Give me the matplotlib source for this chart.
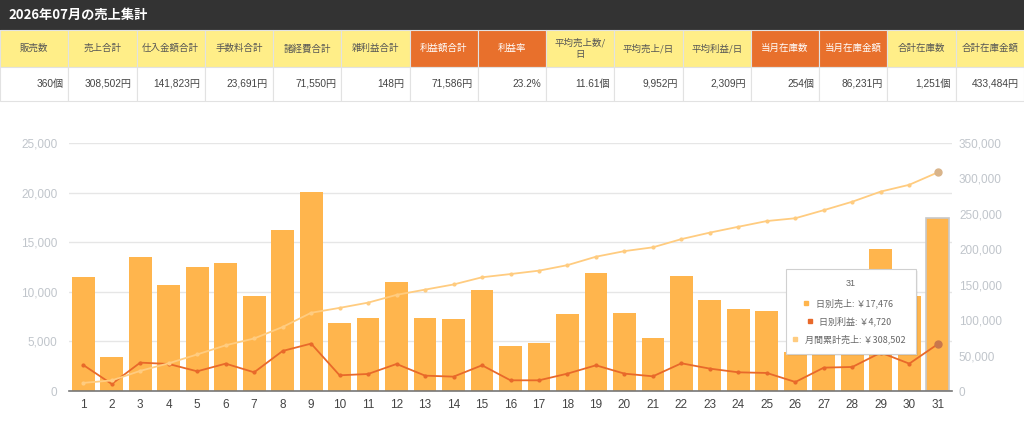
import numpy as np
import matplotlib
matplotlib.use("Agg")
import matplotlib.pyplot as plt
from matplotlib.patches import Rectangle

plt.rcParams['font.family'] = ['Noto Sans CJK JP', 'DejaVu Sans']
NUM_FONT = ['Liberation Sans', 'Noto Sans CJK JP', 'DejaVu Sans']

title = '2026年07月の売上集計'

# summary table
col_names = ['販売数', '売上合計', '仕入金額合計', '手数料合計', '諸経費合計', '雑利益合計',
             '利益額合計', '利益率', '平均売上数/\n日', '平均売上/日', '平均利益/日',
             '当月在庫数', '当月在庫金額', '合計在庫数', '合計在庫金額']
col_values = ['360個', '308,502円', '141,823円', '23,691円', '71,550円', '148円',
              '71,586円', '23.2%', '11.61個', '9,952円', '2,309円',
              '254個', '86,231円', '1,251個', '433,484円']
col_highlight = [False, False, False, False, False, False,
                 True, True, False, False, False, True, True, False, False]

# daily data
days = np.arange(1, 32)
daily_sales = [11450, 3430, 13525, 10666, 12515, 12918, 9623, 16184, 20085, 6898,
               7402, 10968, 7402, 7267, 10160, 4542, 4810, 7772, 11910, 7873,
               5383, 11574, 9185, 8244, 8075, 3950, 11420, 11906, 14300, 9589, 17476]
daily_profit = [2624, 706, 2860, 2725, 1985, 2758, 1884, 4037, 4776, 1581,
                1716, 2725, 1548, 1447, 2591, 1077, 1077, 1750, 2591, 1750,
                1480, 2793, 2254, 1884, 1817, 908, 2355, 2422, 3869, 2758, 4720]
cum_sales = np.cumsum(daily_sales)

C_BAR = '#FFB54D'
C_PROFIT = '#E8692A'
C_CUM = '#FFCC80'
C_YELLOW = '#FFEE88'
C_ORANGE = '#E8702C'

fig = plt.figure(figsize=(10.24, 4.37), dpi=100)

# ---- header (pixel coordinates)
hdr = fig.add_axes([0, 0, 1, 1])
hdr.set_xlim(0, 1024)
hdr.set_ylim(437, 0)
hdr.axis('off')
hdr.add_patch(Rectangle((0, 0), 1024, 30, color='#333333', lw=0))
hdr.text(8, 15, title, color='white', fontsize=9.5, fontweight='bold', va='center', ha='left')

cw = 1024 / len(col_names)
for i, (name, val, hl) in enumerate(zip(col_names, col_values, col_highlight)):
    x0 = i * cw
    hdr.add_patch(Rectangle((x0, 30), cw, 37, facecolor=C_ORANGE if hl else C_YELLOW,
                            edgecolor='#e2e2e2', lw=0.8))
    hdr.add_patch(Rectangle((x0, 67), cw, 34, facecolor='white', edgecolor='#e2e2e2', lw=0.8))
    hdr.text(x0 + cw / 2, 48.5, name, ha='center', va='center', fontsize=6.8,
             color='white' if hl else '#555555', linespacing=1.3)
    hdr.text(x0 + cw - 5, 84, val, ha='right', va='center', fontsize=7.3, color='#444444',
             family=NUM_FONT)

# ---- chart
ax = fig.add_axes([69 / 1024, 46 / 437, 883 / 1024, 248 / 437])
ax2 = ax.twinx()
ax.set_zorder(ax2.get_zorder() - 1)
ax.patch.set_visible(True)
ax2.patch.set_visible(False)

edges = ['none'] * 30 + ['#c8c8c8']
ax.bar(days, daily_sales, width=0.8, color=C_BAR, edgecolor=edges, linewidth=1.2, zorder=2)
ax.plot(days, daily_profit, color=C_PROFIT, lw=1.3, marker='o', ms=2.0, zorder=4)
ax.plot(days[-1], daily_profit[-1], 'o', color='#c9774c', ms=5, zorder=5)

ax2.plot(days, cum_sales, color=C_CUM, lw=1.3, marker='o', ms=2.0, zorder=3)
ax2.plot(days[-1], cum_sales[-1], 'o', color='#d9b48a', ms=5, zorder=5)

ax.set_xlim(0.5, 31.5)
ax.set_ylim(0, 25000)
ax2.set_ylim(0, 350000)
ax.set_yticks(np.arange(0, 25001, 5000))
ax2.set_yticks(np.arange(0, 350001, 50000))
ax.set_xticks(days)
ax.yaxis.set_major_formatter(matplotlib.ticker.StrMethodFormatter('{x:,.0f}'))
ax2.yaxis.set_major_formatter(matplotlib.ticker.StrMethodFormatter('{x:,.0f}'))

ax.grid(axis='y', color='#e6e6e6', lw=1, zorder=0)
ax.set_axisbelow(True)
for a in (ax, ax2):
    for s in ('top', 'left', 'right', 'bottom'):
        a.spines[s].set_visible(False)
ax.spines['bottom'].set_visible(True)
ax.spines['bottom'].set_color('#777777')
ax.spines['bottom'].set_linewidth(1.2)

ax.tick_params(axis='y', length=0, pad=8.5, labelsize=8.5, labelcolor='#c0c5cb')
ax2.tick_params(axis='y', length=0, pad=5, labelsize=8.5, labelcolor='#c0c5cb')
ax.tick_params(axis='x', length=0, pad=6, labelsize=8.5, labelcolor='#444444')
for lab in ax.get_xticklabels() + ax.get_yticklabels() + ax2.get_yticklabels():
    lab.set_family(NUM_FONT)

# ---- tooltip (pixel coordinates)
hdr.set_zorder(10)
hdr.add_patch(Rectangle((788, 271), 130, 85, facecolor='#000000', alpha=0.05, lw=0))
hdr.add_patch(Rectangle((786, 269), 130, 85, facecolor='white', edgecolor='#d0d0d0', lw=0.8))
hdr.text(851, 283, '31', ha='center', va='center', fontsize=6.5, color='#666666',
         family=NUM_FONT)
tip_rows = [('日別売上: ￥17,476', C_BAR, 303),
            ('日別利益: ￥4,720', C_PROFIT, 321),
            ('月間累計売上: ￥308,502', C_CUM, 339)]
for txt, col, yy in tip_rows:
    hdr.text(855, yy, txt, ha='center', va='center', fontsize=6.5, color='#666666')
    hdr.plot([855 - len(txt) * 3.6 - 2], [yy], 's', color=col, ms=3)

fig.savefig('out.png', dpi=100)
